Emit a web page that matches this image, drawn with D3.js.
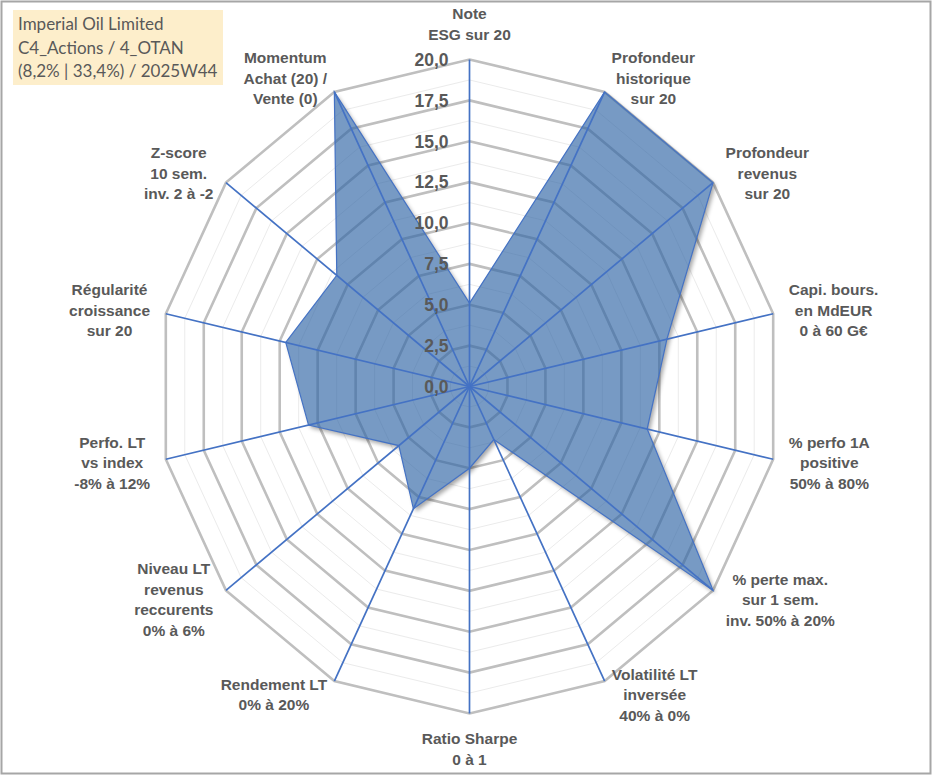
<!DOCTYPE html>
<html>
<head>
<meta charset="utf-8">
<script src="https://cdn.jsdelivr.net/npm/d3@7/dist/d3.min.js"></script>
<style>
  html, body { margin: 0; padding: 0; background: #ffffff; }
  svg { display: block; }
</style>
</head>
<body>
<svg id="chart" width="933" height="776"></svg>
<script>
// ---- Data ----
const categories = [
  ["Note", "ESG sur 20"],
  ["Profondeur", "historique", "sur 20"],
  ["Profondeur", "revenus", "sur 20"],
  ["Capi. bours.", "en MdEUR", "0 à 60 G€"],
  ["% perfo 1A", "positive", "50% à 80%"],
  ["% perte max.", "sur 1 sem.", "inv. 50% à 20%"],
  ["Volatilité LT", "inversée", "40% à 0%"],
  ["Ratio Sharpe", "0 à 1"],
  ["Rendement LT", "0% à 20%"],
  ["Niveau LT", "revenus", "reccurents", "0% à 6%"],
  ["Perfo. LT", "vs index", "-8% à 12%"],
  ["Régularité", "croissance", "sur 20"],
  ["Z-score", "10 sem.", "inv. 2 à -2"],
  ["Momentum", "Achat (20) /", "Vente (0)"]
];
const values = [5.1, 20, 20, 13.0, 11.7, 20, 3.6, 5.0, 8.3, 5.8, 10.6, 12.1, 10.9, 20];
const tickValues = [0, 2.5, 5, 7.5, 10, 12.5, 15, 17.5, 20];
const minorTickValues = [1.25, 3.75, 6.25, 8.75, 11.25, 13.75, 16.25, 18.75];
const titleLines = ["Imperial Oil Limited", "C4_Actions / 4_OTAN", "(8,2% | 33,4%) / 2025W44"];

// ---- Layout ----
const W = 933, H = 776;
const cx = 469.5, cy = 386.5;
const rx = d3.scaleLinear().domain([0, 20]).range([0, 311.5]);
const ry = d3.scaleLinear().domain([0, 20]).range([0, 327]);
const angle = d3.scaleLinear().domain([0, categories.length]).range([0, 2 * Math.PI]);
const fmt = v => d3.format(".1f")(v).replace(".", ",");

const pt = (i, v) => [cx + rx(v) * Math.sin(angle(i)), cy - ry(v) * Math.cos(angle(i))];
const ring = v => categories.map((_, i) => pt(i, v));
const closed = d3.line().curve(d3.curveLinearClosed);

const svg = d3.select("#chart");
const defs = svg.append("defs");

// frame
svg.append("rect").attr("x", 1.5).attr("y", 1.5).attr("width", W - 4).attr("height", H - 4)
  .attr("fill", "#ffffff").attr("stroke", "#a6a6a6").attr("stroke-width", 2);

// title box
const tb = svg.append("g");
tb.append("rect").attr("x", 13).attr("y", 10).attr("width", 210).attr("height", 75).attr("fill", "#fdeecb");
tb.selectAll("text").data(titleLines).join("text")
  .attr("x", 18).attr("y", (d, i) => 30 + i * 23.5)
  .attr("font-family", "Lato, 'Open Sans', sans-serif").attr("font-size", 17)
  .attr("fill", "#595959").text(d => d);

// minor grid
svg.append("g").selectAll("path").data(minorTickValues).join("path")
  .attr("d", v => closed(ring(v))).attr("fill", "none")
  .attr("stroke", "#ebebeb").attr("stroke-width", 1);
// major grid
svg.append("g").selectAll("path").data(tickValues.filter(v => v > 0)).join("path")
  .attr("d", v => closed(ring(v))).attr("fill", "none")
  .attr("stroke", "#bfbfbf").attr("stroke-width", 2.6).attr("stroke-linejoin", "miter");

// shadow (masked outside the area)
const seriesPts = values.map((v, i) => pt(i, v));
const mask = defs.append("mask").attr("id", "outside");
mask.append("rect").attr("x", 0).attr("y", 0).attr("width", W).attr("height", H).attr("fill", "white");
mask.append("path").attr("d", closed(seriesPts)).attr("fill", "black");
const blur = defs.append("filter").attr("id", "blur").attr("x", "-10%").attr("y", "-10%").attr("width", "120%").attr("height", "120%");
blur.append("feGaussianBlur").attr("stdDeviation", 2.2);
svg.append("g").attr("mask", "url(#outside)")
  .append("path").attr("d", closed(seriesPts)).attr("transform", "translate(2.5,3)")
  .attr("fill", "#000").attr("opacity", 0.35).attr("filter", "url(#blur)");

// area
svg.append("path").attr("d", closed(seriesPts))
  .attr("fill", "rgb(46,100,165)").attr("fill-opacity", 0.65)
  .attr("stroke", "#4472c4").attr("stroke-width", 1.2).attr("stroke-linejoin", "miter");

// spokes
svg.append("g").selectAll("line").data(categories).join("line")
  .attr("x1", cx).attr("y1", cy)
  .attr("x2", (d, i) => pt(i, 20)[0]).attr("y2", (d, i) => pt(i, 20)[1])
  .attr("stroke", "#4472c4").attr("stroke-width", 1.7);

// tick labels
svg.append("g").selectAll("text").data(tickValues).join("text")
  .attr("x", cx - 21).attr("y", v => cy - ry(v))
  .attr("dy", "0.36em").attr("text-anchor", "end")
  .attr("font-family", "'Liberation Sans', Arial, sans-serif").attr("font-weight", "bold")
  .attr("font-size", 17.5).attr("fill", "#595959").text(fmt);

// category labels
const lh = 20.5;
const lab = svg.append("g").attr("font-family", "'Liberation Sans', Arial, sans-serif")
  .attr("font-weight", "bold").attr("font-size", 15.5).attr("fill", "#595959");
categories.forEach((lines, i) => {
  const a = angle(i);
  const s = Math.sin(a), c = Math.cos(a);
  const [vx, vy] = pt(i, 20);
  const g = lab.append("g");
  const t = g.append("text").attr("text-anchor", "middle");
  lines.forEach((ln, k) => {
    t.append("tspan").attr("x", 0).attr("y", (k - (lines.length - 1) / 2) * lh).attr("dy", "0.35em").text(ln);
  });
  const bb = t.node().getBBox();
  const w = bb.width, h = lines.length * lh;
  const sx = Math.abs(s) < 0.01 ? 0 : Math.sign(s);
  const sy = Math.abs(s) < 0.01 ? Math.sign(c) : 0;
  const lx = vx + s * 16 + sx * w / 2;
  const ly = vy - c * 15 - sy * h / 2;
  g.attr("transform", `translate(${lx},${ly})`);
});
</script>
</body>
</html>
